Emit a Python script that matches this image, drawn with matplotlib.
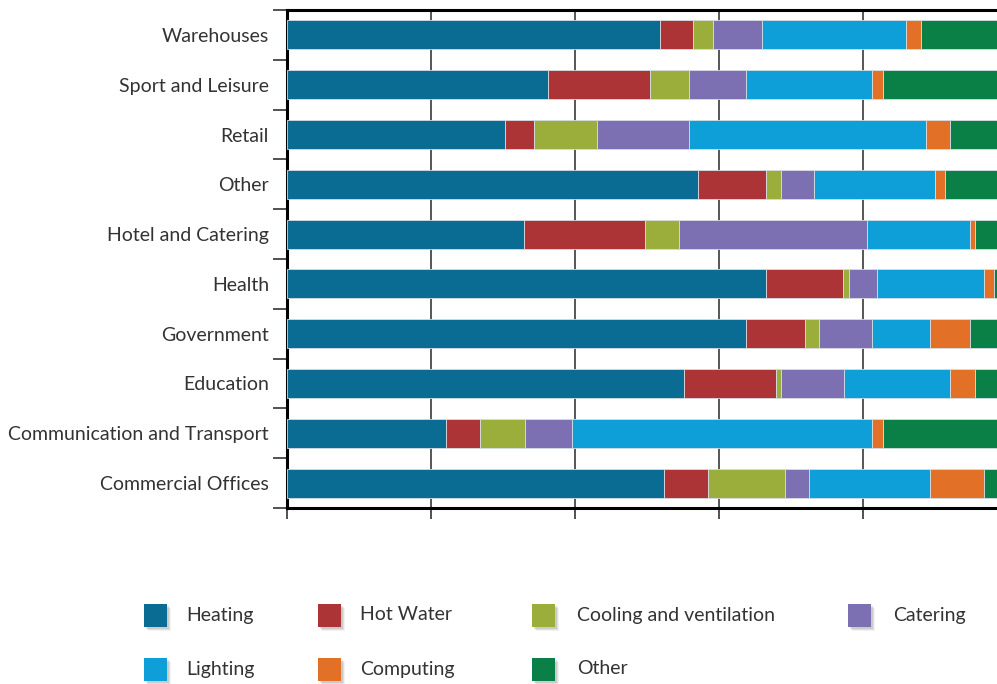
import matplotlib.pyplot as plt
import numpy as np
from matplotlib.patches import Rectangle

plt.rcParams['font.family'] = ['Lato', 'DejaVu Sans']

# sectors, bottom to top
sectors = ['Commercial Offices', 'Communication and Transport', 'Education',
           'Government', 'Health', 'Hotel and Catering', 'Other', 'Retail',
           'Sport and Leisure', 'Warehouses']

# share of energy use (%) per end use
heating   = [52.4, 22.1, 55.1, 63.8, 66.5, 32.9, 57.1, 30.3, 36.3, 51.8]
hot_water = [6.1, 4.7, 12.8, 8.1, 10.7, 16.8, 9.4, 4.0, 14.1, 4.6]
cooling   = [10.7, 6.2, 0.7, 2.0, 0.8, 4.7, 2.1, 8.7, 5.4, 2.8]
catering  = [3.3, 6.6, 8.7, 7.4, 4.0, 26.2, 4.6, 12.8, 8.0, 6.7]
lighting  = [16.8, 41.7, 14.8, 8.0, 14.8, 14.2, 16.8, 32.9, 17.5, 20.1]
computing = [7.5, 1.4, 3.4, 5.5, 1.4, 0.7, 1.4, 3.4, 1.4, 2.1]
other     = [3.2, 17.3, 4.5, 5.2, 1.8, 4.5, 8.6, 7.9, 17.3, 11.9]

series = ['Heating', 'Hot Water', 'Cooling and ventilation', 'Catering',
          'Lighting', 'Computing', 'Other']
values = [heating, hot_water, cooling, catering, lighting, computing, other]
colors = ['#0b6c93', '#ad3436', '#9bad3a', '#7c6fb2', '#0f9fd8', '#e27026', '#0a8047']

W, H = 997, 684
fig = plt.figure(figsize=(W / 100, H / 100), dpi=100)
ax = fig.add_axes([287 / W, 176 / H, 710 / W, 498 / H])

y = np.arange(len(sectors))
left = np.zeros(len(sectors))
for vals, c in zip(values, colors):
    ax.barh(y, vals, left=left, height=0.58, color=c,
            edgecolor='#d5dde3', linewidth=0.6, zorder=3)
    left += np.array(vals)

ax.set_xlim(0, 98.6)
ax.set_ylim(-0.5, len(sectors) - 0.5)

ax.set_xticks([0, 20, 40, 60, 80])
ax.set_xticklabels([])
ax.tick_params(axis='x', direction='out', length=8, width=1.1, color='#222')
ax.grid(axis='x', color='#3a3a3a', linewidth=1.2, zorder=0)
ax.set_axisbelow(True)

ax.set_yticks(y)
ax.set_yticklabels(sectors, fontsize=14, color='#333333')
ax.tick_params(axis='y', which='major', length=0, pad=13)
ax.set_yticks(np.arange(-0.5, len(sectors)), minor=True)
ax.tick_params(axis='y', which='minor', direction='out', length=10, width=1.1, color='#222')

for s in ['left', 'top', 'bottom']:
    ax.spines[s].set_linewidth(2.2)
    ax.spines[s].set_color('black')
ax.spines['right'].set_visible(False)

# legend, laid out by hand in two rows
sq_x = [144, 318, 532, 848]
txt_x = [186, 360, 577, 893]
row_y = [615, 669]
sq = 23
for i, (name, c) in enumerate(zip(series, colors)):
    r, col = divmod(i, 4)
    cx, cy = sq_x[col], row_y[r]
    # soft shadow
    for k, a in enumerate([0.05, 0.07, 0.09]):
        off = 4 - k
        fig.add_artist(Rectangle(((cx + off) / W, 1 - (cy + sq / 2 + off) / H),
                                 sq / W, sq / H, transform=fig.transFigure,
                                 color='black', alpha=a, lw=0))
    fig.add_artist(Rectangle((cx / W, 1 - (cy + sq / 2) / H), sq / W, sq / H,
                             transform=fig.transFigure, color=c, lw=0))
    fig.text(txt_x[col] / W, 1 - cy / H, name, fontsize=14, color='#333333',
             va='center', ha='left')

fig.savefig('out.png', dpi=100)
